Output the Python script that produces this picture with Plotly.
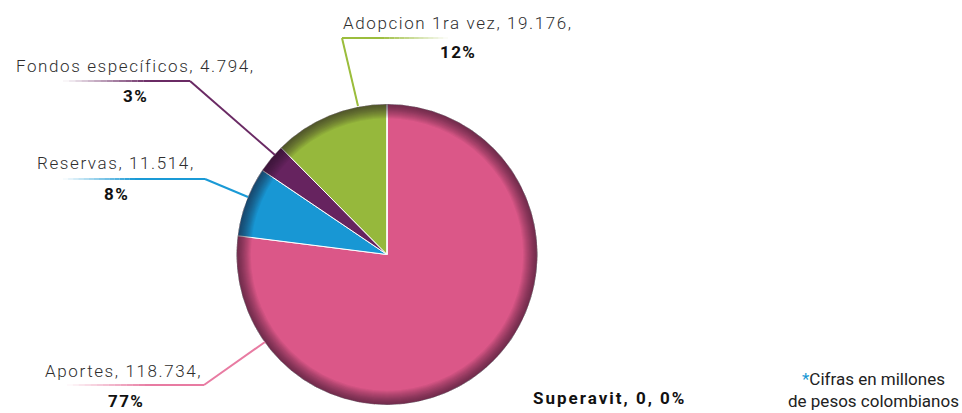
import plotly.graph_objects as go

# Composition data (millones de pesos)
labels = ["Aportes", "Reservas", "Fondos específicos", "Adopcion 1ra vez", "Superavit"]
values = [118734, 11514, 4794, 19176, 0]
value_text = ["118.734", "11.514", "4.794", "19.176", "0"]
pct_text = ["77%", "8%", "3%", "12%", "0%"]
colors = ["#DB5788", "#1897D4", "#66235F", "#96B83C", "#888888"]
line_colors = ["#E87BA2", "#1A9AD6", "#6A2A64", "#9BBD3C"]

W, H = 962, 413
CX, CY, R = 387, 254.5, 150.5


def px(x):
    return x / W


def py(y):
    return 1 - y / H


fig = go.Figure()

dom = dict(x=[px(CX - R), px(CX + R)], y=[py(CY + R), py(CY - R)])

fig.add_trace(go.Pie(
    labels=labels, values=values, sort=False, direction="clockwise", rotation=0,
    marker=dict(colors=colors, line=dict(color="white", width=1)),
    textinfo="none", hoverinfo="label+value", domain=dom, showlegend=False,
))

# darker rim to give the pie some depth (many thin rings -> smooth gradient)
n_rings = 14
for k in range(n_rings):
    h = 0.905 + 0.092 * k / n_rings
    fig.add_trace(go.Pie(
        values=[1], sort=False, hole=h,
        marker=dict(colors=["rgba(45,10,35,0.055)"], line=dict(width=0)),
        textinfo="none", hoverinfo="skip", domain=dom, showlegend=False,
    ))

shapes = []


def seg(x0, y0, x1, y1, color, op=1.0):
    shapes.append(dict(type="line", xref="paper", yref="paper",
                       x0=px(x0), y0=py(y0), x1=px(x1), y1=py(y1),
                       line=dict(color=color, width=2), opacity=op))


def fade(x_clear, x_solid, y, color, n=14):
    # horizontal line fading from transparent (x_clear) to solid (x_solid)
    for i in range(n):
        a = x_clear + (x_solid - x_clear) * i / n
        b = x_clear + (x_solid - x_clear) * (i + 1) / n
        seg(a, y, b, y, color, (i + 0.5) / n)


# Aportes
seg(265, 342, 204, 385, line_colors[0])
seg(204, 385, 150, 385, line_colors[0])
fade(67, 150, 385, line_colors[0])
# Reservas
seg(248, 197, 205, 179, line_colors[1])
seg(205, 179, 135, 179, line_colors[1])
fade(63, 135, 179, line_colors[1])
# Fondos específicos
seg(275, 155, 190, 81, line_colors[2])
seg(190, 81, 150, 81, line_colors[2])
fade(63, 150, 81, line_colors[2])
# Adopcion 1ra vez
seg(358, 106, 342, 38, line_colors[3])
seg(342, 38, 380, 38, line_colors[3])
fade(448, 380, 38, line_colors[3])

FONT = "Roboto, sans-serif"
TXT = "#2E2E2E"
ann = []


def label(x, y, text, size=17, bold=False, spacing=1.6, color=TXT):
    t = f'<span style="letter-spacing:{spacing}px">{text}</span>'
    ann.append(dict(x=px(x), y=py(y), xref="paper", yref="paper", text=t,
                    showarrow=False, xanchor="center", yanchor="middle",
                    font=dict(family=FONT, size=size, color="#111111" if bold else color,
                              weight=700 if bold else 300)))


pos = {
    0: ((123, 371), (126, 401)),
    1: ((116, 163), (116, 194)),
    2: ((135, 66), (135, 96)),
    3: ((458, 23), (458, 52)),
}
for i, ((lx, ly), (qx, qy)) in pos.items():
    label(lx, ly, f"{labels[i]}, {value_text[i]},")
    label(qx, qy, pct_text[i], bold=True, size=17, spacing=1.4)

label(609, 398, f"{labels[4]}, {value_text[4]}, {pct_text[4]}", bold=True, spacing=2.0)

ann.append(dict(x=px(873), y=py(390), xref="paper", yref="paper",
                text='<span style="color:#1897D4">*</span>Cifras en millones<br>de pesos colombianos',
                showarrow=False, xanchor="center", yanchor="middle", align="center",
                font=dict(family=FONT, size=17, color="#222222", weight=400)))

fig.update_layout(
    width=W, height=H, margin=dict(l=0, r=0, t=0, b=0),
    paper_bgcolor="white", plot_bgcolor="white",
    shapes=shapes, annotations=ann, showlegend=False,
)

fig.write_html("out.html")
